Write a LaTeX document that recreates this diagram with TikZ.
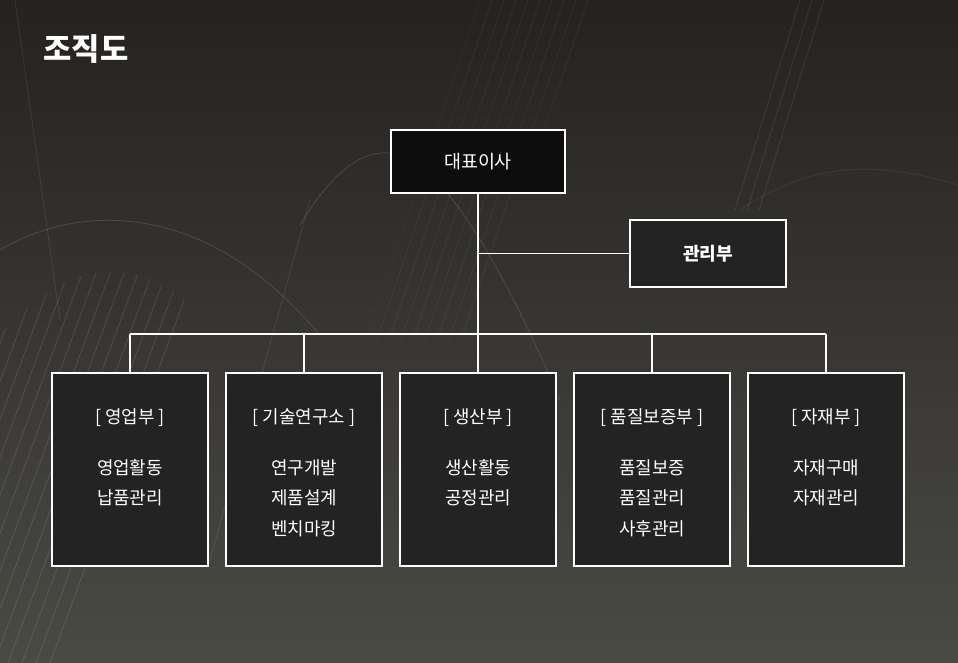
\documentclass[tikz,border=0pt]{standalone}
\usepackage{fontspec}
\setmainfont{Noto Sans CJK KR}
\usetikzlibrary{positioning,calc}
\definecolor{bgtop}{HTML}{252220}
\definecolor{bgbot}{HTML}{4A4A45}
\definecolor{boxfill}{HTML}{232323}
\definecolor{topfill}{HTML}{0D0D0D}
\definecolor{rust}{HTML}{7A5A52}
\tikzset{
  orgbox/.style={draw=white, line width=1.1pt, fill=boxfill, text=white, inner sep=0pt},
  link/.style={white, line width=1.1pt},
  deco/.style={white, opacity=0.13, line width=0.4pt},
  itemtext/.style={text=white, font=\fontsize{10.2}{12}\selectfont, inner sep=0pt}
}

\begin{document}
\begin{tikzpicture}[x=0.02cm,y=-0.02cm]
  % background
  \shade[top color=bgtop, bottom color=bgbot] (0,0) rectangle (958,663);
  \useasboundingbox (0,0) rectangle (958,663);

  % faint lines
  \begin{scope}
    \clip (0,663) -- (0,335) .. controls (40,290) and (80,268) .. (120,272) .. controls (160,276) and (190,300) .. (215,330) -- (90,663) -- cycle;
    \foreach \i in {0,...,20}
      \draw[deco] (-230+14*\i,663) -- (15+14*\i,0);
  \end{scope}
  \begin{scope}
    \clip (480,0) -- (590,0) -- (470,340) -- (365,340) -- cycle;
    \foreach \i in {0,...,9}
      \draw[deco, opacity=0.06] (480+12*\i,0) -- (365+12*\i,340);
  \end{scope}
  \foreach \i in {0,1,2}
    \draw[deco, opacity=0.1] (800+12*\i,0) -- (735+12*\i,210);
  \draw[deco, draw=rust, opacity=0.6] (0,250) .. controls (60,215) and (130,210) .. (200,240) .. controls (250,262) and (290,300) .. (320,335);
  \draw[deco, draw=rust, opacity=0.6] (300,225) .. controls (330,175) and (360,150) .. (390,153) .. controls (440,158) and (500,260) .. (560,400);
  \draw[deco, opacity=0.08] (740,210) .. controls (800,170) and (860,155) .. (958,185);
  \draw[deco, opacity=0.1] (15,0) -- (60,320);
  \draw[deco, opacity=0.1] (210,560) -- (310,200);

  % title
  \node[text=white, font=\fontsize{17.5}{20}\selectfont\bfseries] (title) at (86,49) {조직도};

  % boxes
  \node[orgbox, fill=topfill, minimum width=3.48cm, minimum height=1.26cm, font=\fontsize{10.5}{12}\selectfont] (ceo) at (478,161.5) {대표이사};
  \node[orgbox, minimum width=3.12cm, minimum height=1.34cm, font=\fontsize{10.3}{12}\selectfont\bfseries] (mgmt) at (708,253.5) {관리부};

  \foreach \n/\x/\head/\items in {1/130/영업부/{영업활동,납품관리},
      2/304/기술연구소/{연구개발,제품설계,벤치마킹},
      3/478/생산부/{생산활동,공정관리},
      4/652/품질보증부/{품질보증,품질관리,사후관리},
      5/826/자재부/{자재구매,자재관리}}
  {
    \node[orgbox, minimum width=3.12cm, minimum height=3.86cm] (d\n) at (\x,469.5) {};
    \node[itemtext] (d\n-h) at (\x,418) {[ \head\ ]};
    \foreach \it [count=\k] in \items
      \node[itemtext] (d\n-\k) at (\x,437+30.5*\k) {\it};
  }

  % connectors
  \coordinate (bus) at (478,334);
  \draw[link] (ceo.south) -- (bus);
  \draw[link] (ceo.south |- mgmt.west) -- (mgmt.west);
  \draw[link] (d1.north |- bus) -- (d5.north |- bus);
  \foreach \n in {1,...,5}
    \draw[link] (d\n.north |- bus) -- (d\n.north);
\end{tikzpicture}
\end{document}
